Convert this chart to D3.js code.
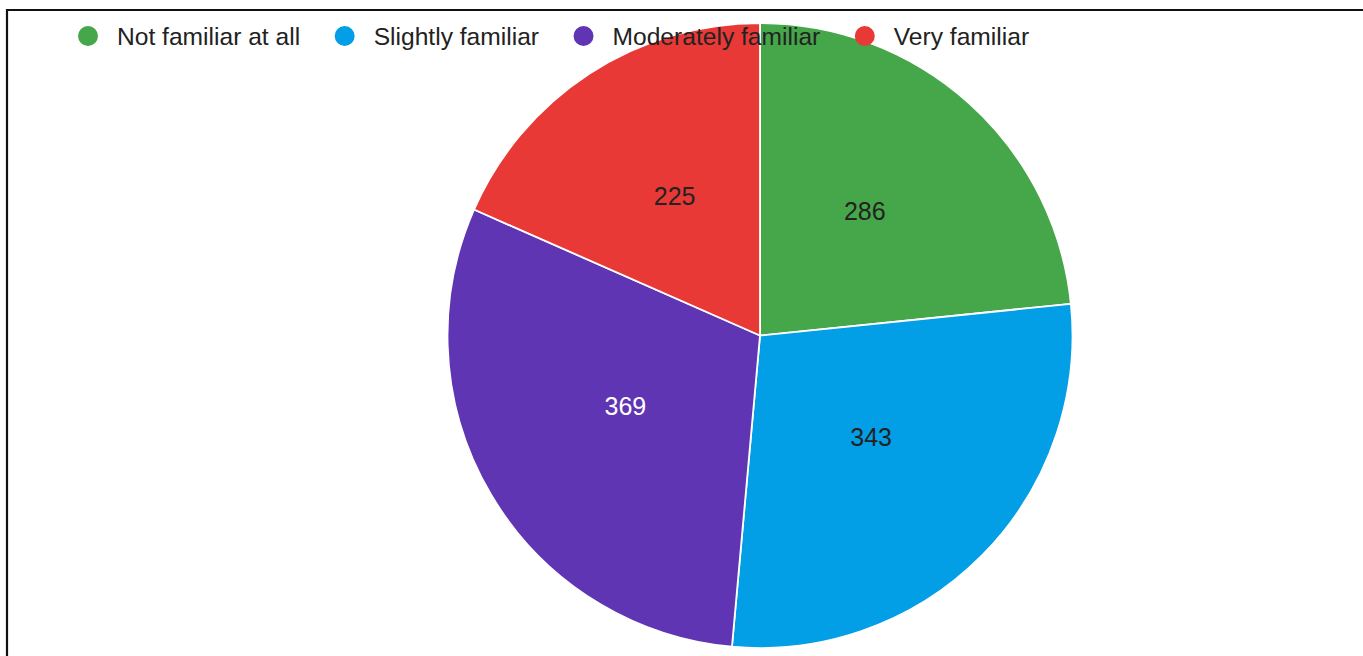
<!DOCTYPE html>
<html>
<head>
<meta charset="utf-8">
<script src="https://cdn.jsdelivr.net/npm/d3@7/dist/d3.min.js"></script>
<style>
  html, body { margin: 0; padding: 0; background: #fff; }
  svg { display: block; }
  text { font-family: "Liberation Sans", Arial, sans-serif; }
</style>
</head>
<body>
<svg id="chart" width="1363" height="656"></svg>
<script>
// Survey responses: familiarity levels
const categories = ["Not familiar at all", "Slightly familiar", "Moderately familiar", "Very familiar"];
const counts = [286, 343, 369, 225];
const colors = ["#46a64a", "#029ee6", "#5f35b4", "#e83937"];
const labelColors = ["#222222", "#222222", "#ffffff", "#222222"];

const width = 1363, height = 656;
const svg = d3.select("#chart");

// frame lines (left and top edges of the panel)
svg.append("line").attr("x1", 7).attr("x2", 7).attr("y1", 9).attr("y2", height)
  .attr("stroke", "#111").attr("stroke-width", 2.2);
svg.append("line").attr("x1", 6).attr("x2", width).attr("y1", 10).attr("y2", 10)
  .attr("stroke", "#111").attr("stroke-width", 2.2);

const cx = 760, cy = 335.5, R = 312.5;
const data = categories.map((c, i) => ({ name: c, value: counts[i], color: colors[i], lc: labelColors[i] }));

const pie = d3.pie().value(d => d.value).sort(null);
const arc = d3.arc().innerRadius(0).outerRadius(R);
const labelArc = d3.arc().innerRadius(R * 0.5).outerRadius(R * 0.5);

const g = svg.append("g").attr("transform", `translate(${cx},${cy})`);
const arcs = pie(data);

g.selectAll("path").data(arcs).join("path")
  .attr("d", arc)
  .attr("fill", d => d.data.color)
  .attr("stroke", "#fff")
  .attr("stroke-width", 1.8)
  .attr("stroke-linejoin", "round");

// value labels sit on the slice centroid line
g.selectAll("text.val").data(arcs).join("text")
  .attr("class", "val")
  .attr("transform", d => `translate(${labelArc.centroid(d)})`)
  .attr("text-anchor", "middle")
  .attr("dy", "0.02em")
  .attr("font-size", 25)
  .attr("fill", d => d.data.lc)
  .text(d => d.data.value);

// legend across the top, drawn over the pie
const legend = svg.append("g");
let x = 88;
const ly = 36;
data.forEach(d => {
  legend.append("circle").attr("cx", x).attr("cy", ly).attr("r", 10).attr("fill", d.color);
  const t = legend.append("text")
    .attr("x", x + 29).attr("y", ly).attr("dy", "0.36em")
    .attr("font-size", 24.6).attr("fill", "#222")
    .text(d.name);
  const w = t.node().getComputedTextLength();
  x = x + 29 + w + 44.5;
});
</script>
</body>
</html>
